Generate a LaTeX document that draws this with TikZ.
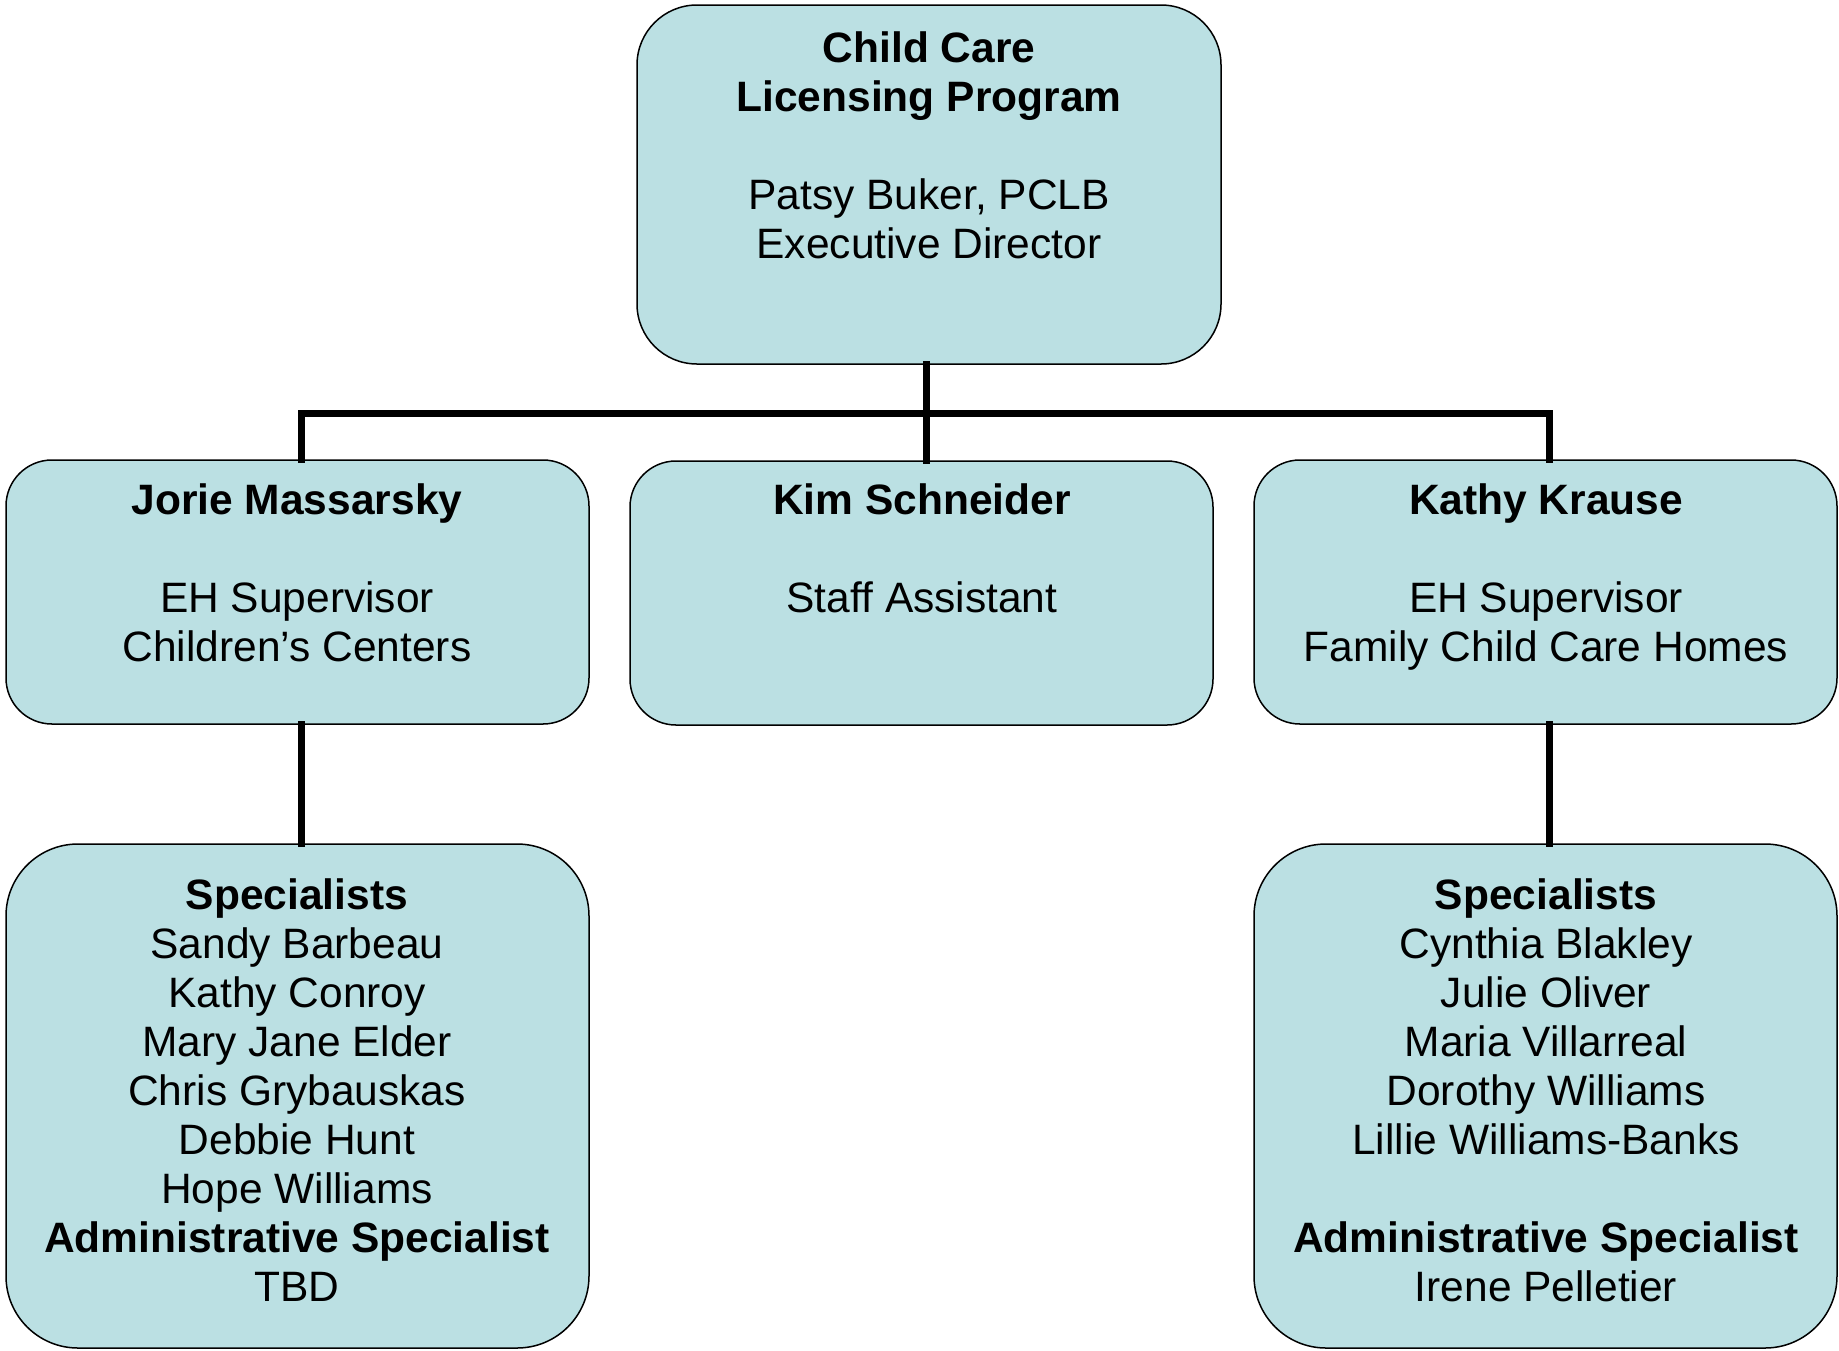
\documentclass[tikz,border=0pt]{standalone}
\usepackage{fontspec}
\setmainfont{Liberation Sans}
\definecolor{boxfill}{RGB}{187,224,227}
\begin{document}
\begin{tikzpicture}[x=1pt,y=-1pt,
  box/.style={draw=black,line width=1.5pt,fill=boxfill,rectangle,inner sep=0pt},
  txt/.style={align=center,inner sep=0pt,anchor=north,
    font=\fontsize{42.5}{49}\selectfont},
  link/.style={line width=7pt,line join=miter,line cap=rect}]
\useasboundingbox (0,0) rectangle (1839,1350);

% boxes
\node[box,minimum width=584pt,minimum height=359pt,rounded corners=60pt] (director) at (929,184.5) {};
\node[box,minimum width=583pt,minimum height=264pt,rounded corners=46pt] (leftsup) at (297.5,592) {};
\node[box,minimum width=583pt,minimum height=264pt,rounded corners=46pt] (assist) at (921.5,593) {};
\node[box,minimum width=583pt,minimum height=264pt,rounded corners=46pt] (rightsup) at (1545.5,592) {};
\node[box,minimum width=583pt,minimum height=504pt,rounded corners=72pt] (leftteam) at (297.5,1096) {};
\node[box,minimum width=583pt,minimum height=504pt,rounded corners=72pt] (rightteam) at (1545.5,1096) {};

% connectors
\coordinate (hub) at (926,413);
\coordinate (lefttap) at (301,413);
\coordinate (righttap) at (1549,413);
\draw[link] (director.south -| hub) -- (hub);
\draw[link] (hub) -- (hub |- assist.north);
\draw[link] (lefttap |- leftsup.north) -- (lefttap) -- (righttap) -- (righttap |- rightsup.north);
\draw[link] (lefttap |- leftsup.south) -- (lefttap |- leftteam.north);
\draw[link] (righttap |- rightsup.south) -- (righttap |- rightteam.north);

% texts
\node[txt] (directortext) at (929,31) {\textbf{Child Care}\\\textbf{Licensing Program}\\[49pt]Patsy Buker, PCLB\\Executive Director};
\node[txt] (leftsuptext) at (297,483) {\textbf{Jorie Massarsky}\\[49pt]EH Supervisor\\Children’s Centers};
\node[txt] (assisttext) at (922,483) {\textbf{Kim Schneider}\\[49pt]Staff Assistant};
\node[txt] (rightsuptext) at (1546,483) {\textbf{Kathy Krause}\\[49pt]EH Supervisor\\Family Child Care Homes};
\node[txt] (leftteamtext) at (297,878) {\textbf{Specialists}\\Sandy Barbeau\\Kathy Conroy\\Mary Jane Elder\\Chris Grybauskas\\Debbie Hunt\\Hope Williams\\\textbf{Administrative Specialist}\\TBD};
\node[txt] (rightteamtext) at (1546,878) {\textbf{Specialists}\\Cynthia Blakley\\Julie Oliver\\Maria Villarreal\\Dorothy Williams\\Lillie Williams-Banks\\[49pt]\textbf{Administrative Specialist}\\Irene Pelletier};
\end{tikzpicture}
\end{document}
